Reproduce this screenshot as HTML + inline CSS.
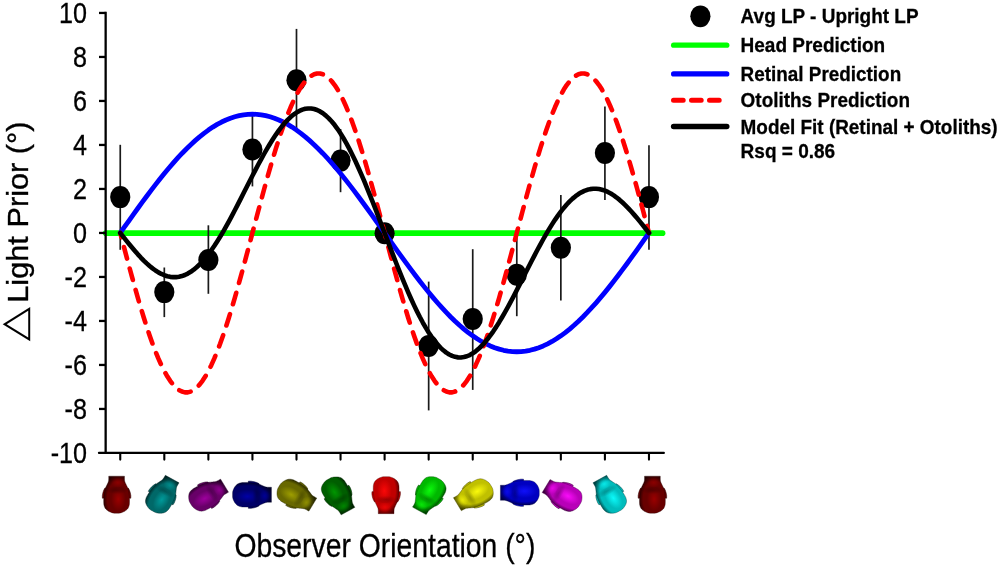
<!DOCTYPE html>
<html lang="en"><head><meta charset="utf-8"><title>Light Prior vs Observer Orientation</title>
<style>
html,body{margin:0;padding:0;background:#fff;}
body{width:1000px;height:566px;overflow:hidden;}
svg{display:block;}
text{font-family:"Liberation Sans",Arial,Helvetica,sans-serif;fill:#000;}
.tick{font-size:28.8px;text-anchor:end;stroke:#000;stroke-width:0.3px;}
.leg{font-size:20.8px;font-weight:bold;stroke:#000;stroke-width:0.3px;}
.axl{font-size:29.5px;stroke:#000;stroke-width:0.35px;}
.axx{font-size:33px;stroke:#000;stroke-width:0.3px;}
</style></head><body>
<svg width="1000" height="566" viewBox="0 0 1000 566">
<rect width="1000" height="566" fill="#fff"/>
<defs>
<radialGradient id="g0" gradientUnits="userSpaceOnUse" cx="0" cy="0" r="15.5" gradientTransform="translate(-1.7,-4.4) scale(1,1.7)">
<stop offset="0" stop-color="#9a0000"/><stop offset="0.45" stop-color="#680000"/><stop offset="0.68" stop-color="#680000"/><stop offset="0.95" stop-color="#240000"/>
</radialGradient>
<radialGradient id="d0"><stop offset="0" stop-color="#240000" stop-opacity="0.38"/><stop offset="1" stop-color="#240000" stop-opacity="0"/></radialGradient>
<radialGradient id="n0"><stop offset="0" stop-color="#9a0000" stop-opacity="0.7"/><stop offset="1" stop-color="#9a0000" stop-opacity="0"/></radialGradient>
<radialGradient id="g1" gradientUnits="userSpaceOnUse" cx="0" cy="0" r="15.5" gradientTransform="translate(-1.7,-4.4) scale(1,1.7)">
<stop offset="0" stop-color="#009a9a"/><stop offset="0.45" stop-color="#006868"/><stop offset="0.68" stop-color="#006868"/><stop offset="0.95" stop-color="#002424"/>
</radialGradient>
<radialGradient id="d1"><stop offset="0" stop-color="#002424" stop-opacity="0.38"/><stop offset="1" stop-color="#002424" stop-opacity="0"/></radialGradient>
<radialGradient id="n1"><stop offset="0" stop-color="#009a9a" stop-opacity="0.7"/><stop offset="1" stop-color="#009a9a" stop-opacity="0"/></radialGradient>
<radialGradient id="g2" gradientUnits="userSpaceOnUse" cx="0" cy="0" r="15.5" gradientTransform="translate(-1.7,-4.4) scale(1,1.7)">
<stop offset="0" stop-color="#9e009e"/><stop offset="0.45" stop-color="#680068"/><stop offset="0.68" stop-color="#680068"/><stop offset="0.95" stop-color="#240024"/>
</radialGradient>
<radialGradient id="d2"><stop offset="0" stop-color="#240024" stop-opacity="0.38"/><stop offset="1" stop-color="#240024" stop-opacity="0"/></radialGradient>
<radialGradient id="n2"><stop offset="0" stop-color="#9e009e" stop-opacity="0.7"/><stop offset="1" stop-color="#9e009e" stop-opacity="0"/></radialGradient>
<radialGradient id="g3" gradientUnits="userSpaceOnUse" cx="0" cy="0" r="15.5" gradientTransform="translate(-1.7,-4.4) scale(1,1.7)">
<stop offset="0" stop-color="#0000a6"/><stop offset="0.45" stop-color="#000068"/><stop offset="0.68" stop-color="#000068"/><stop offset="0.95" stop-color="#000024"/>
</radialGradient>
<radialGradient id="d3"><stop offset="0" stop-color="#000024" stop-opacity="0.38"/><stop offset="1" stop-color="#000024" stop-opacity="0"/></radialGradient>
<radialGradient id="n3"><stop offset="0" stop-color="#0000a6" stop-opacity="0.7"/><stop offset="1" stop-color="#0000a6" stop-opacity="0"/></radialGradient>
<radialGradient id="g4" gradientUnits="userSpaceOnUse" cx="0" cy="0" r="15.5" gradientTransform="translate(-1.7,-4.4) scale(1,1.7)">
<stop offset="0" stop-color="#9e9e00"/><stop offset="0.45" stop-color="#686800"/><stop offset="0.68" stop-color="#686800"/><stop offset="0.95" stop-color="#242400"/>
</radialGradient>
<radialGradient id="d4"><stop offset="0" stop-color="#242400" stop-opacity="0.38"/><stop offset="1" stop-color="#242400" stop-opacity="0"/></radialGradient>
<radialGradient id="n4"><stop offset="0" stop-color="#9e9e00" stop-opacity="0.7"/><stop offset="1" stop-color="#9e9e00" stop-opacity="0"/></radialGradient>
<radialGradient id="g5" gradientUnits="userSpaceOnUse" cx="0" cy="0" r="15.5" gradientTransform="translate(-1.7,-4.4) scale(1,1.7)">
<stop offset="0" stop-color="#009600"/><stop offset="0.45" stop-color="#005e00"/><stop offset="0.68" stop-color="#005e00"/><stop offset="0.95" stop-color="#002000"/>
</radialGradient>
<radialGradient id="d5"><stop offset="0" stop-color="#002000" stop-opacity="0.38"/><stop offset="1" stop-color="#002000" stop-opacity="0"/></radialGradient>
<radialGradient id="n5"><stop offset="0" stop-color="#009600" stop-opacity="0.7"/><stop offset="1" stop-color="#009600" stop-opacity="0"/></radialGradient>
<radialGradient id="g6" gradientUnits="userSpaceOnUse" cx="0" cy="0" r="15.5" gradientTransform="translate(-1.7,-4.4) scale(1,1.7)">
<stop offset="0" stop-color="#fa0808"/><stop offset="0.45" stop-color="#c00000"/><stop offset="0.68" stop-color="#c00000"/><stop offset="0.95" stop-color="#480000"/>
</radialGradient>
<radialGradient id="d6"><stop offset="0" stop-color="#480000" stop-opacity="0.38"/><stop offset="1" stop-color="#480000" stop-opacity="0"/></radialGradient>
<radialGradient id="n6"><stop offset="0" stop-color="#fa0808" stop-opacity="0.7"/><stop offset="1" stop-color="#fa0808" stop-opacity="0"/></radialGradient>
<radialGradient id="g7" gradientUnits="userSpaceOnUse" cx="0" cy="0" r="15.5" gradientTransform="translate(-1.7,-4.4) scale(1,1.7)">
<stop offset="0" stop-color="#0cfa0c"/><stop offset="0.45" stop-color="#00b800"/><stop offset="0.68" stop-color="#00b800"/><stop offset="0.95" stop-color="#004000"/>
</radialGradient>
<radialGradient id="d7"><stop offset="0" stop-color="#004000" stop-opacity="0.38"/><stop offset="1" stop-color="#004000" stop-opacity="0"/></radialGradient>
<radialGradient id="n7"><stop offset="0" stop-color="#0cfa0c" stop-opacity="0.7"/><stop offset="1" stop-color="#0cfa0c" stop-opacity="0"/></radialGradient>
<radialGradient id="g8" gradientUnits="userSpaceOnUse" cx="0" cy="0" r="15.5" gradientTransform="translate(-1.7,-4.4) scale(1,1.7)">
<stop offset="0" stop-color="#fafa0c"/><stop offset="0.45" stop-color="#c0c000"/><stop offset="0.68" stop-color="#c0c000"/><stop offset="0.95" stop-color="#464600"/>
</radialGradient>
<radialGradient id="d8"><stop offset="0" stop-color="#464600" stop-opacity="0.38"/><stop offset="1" stop-color="#464600" stop-opacity="0"/></radialGradient>
<radialGradient id="n8"><stop offset="0" stop-color="#fafa0c" stop-opacity="0.7"/><stop offset="1" stop-color="#fafa0c" stop-opacity="0"/></radialGradient>
<radialGradient id="g9" gradientUnits="userSpaceOnUse" cx="0" cy="0" r="15.5" gradientTransform="translate(-1.7,-4.4) scale(1,1.7)">
<stop offset="0" stop-color="#1010fa"/><stop offset="0.45" stop-color="#0000c0"/><stop offset="0.68" stop-color="#0000c0"/><stop offset="0.95" stop-color="#000044"/>
</radialGradient>
<radialGradient id="d9"><stop offset="0" stop-color="#000044" stop-opacity="0.38"/><stop offset="1" stop-color="#000044" stop-opacity="0"/></radialGradient>
<radialGradient id="n9"><stop offset="0" stop-color="#1010fa" stop-opacity="0.7"/><stop offset="1" stop-color="#1010fa" stop-opacity="0"/></radialGradient>
<radialGradient id="g10" gradientUnits="userSpaceOnUse" cx="0" cy="0" r="15.5" gradientTransform="translate(-1.7,-4.4) scale(1,1.7)">
<stop offset="0" stop-color="#fa0cfa"/><stop offset="0.45" stop-color="#b800b8"/><stop offset="0.68" stop-color="#b800b8"/><stop offset="0.95" stop-color="#400040"/>
</radialGradient>
<radialGradient id="d10"><stop offset="0" stop-color="#400040" stop-opacity="0.38"/><stop offset="1" stop-color="#400040" stop-opacity="0"/></radialGradient>
<radialGradient id="n10"><stop offset="0" stop-color="#fa0cfa" stop-opacity="0.7"/><stop offset="1" stop-color="#fa0cfa" stop-opacity="0"/></radialGradient>
<radialGradient id="g11" gradientUnits="userSpaceOnUse" cx="0" cy="0" r="15.5" gradientTransform="translate(-1.7,-4.4) scale(1,1.7)">
<stop offset="0" stop-color="#0cfafa"/><stop offset="0.45" stop-color="#00bcbc"/><stop offset="0.68" stop-color="#00bcbc"/><stop offset="0.95" stop-color="#004444"/>
</radialGradient>
<radialGradient id="d11"><stop offset="0" stop-color="#004444" stop-opacity="0.38"/><stop offset="1" stop-color="#004444" stop-opacity="0"/></radialGradient>
<radialGradient id="n11"><stop offset="0" stop-color="#0cfafa" stop-opacity="0.7"/><stop offset="1" stop-color="#0cfafa" stop-opacity="0"/></radialGradient>
<path id="hd" d="M0.00,-18.50 L0.63,-18.50 L1.26,-18.50 L1.88,-18.49 L2.51,-18.44 L3.15,-18.35 L3.81,-18.20 L4.50,-17.98 L5.23,-17.71 L5.97,-17.39 L6.69,-17.04 L7.38,-16.68 L8.00,-16.30 L8.56,-15.91 L9.08,-15.51 L9.57,-15.08 L10.01,-14.64 L10.41,-14.18 L10.76,-13.70 L11.07,-13.20 L11.32,-12.67 L11.54,-12.12 L11.71,-11.57 L11.87,-11.03 L12.00,-10.50 L12.11,-10.00 L12.18,-9.52 L12.22,-9.05 L12.25,-8.57 L12.27,-8.06 L12.29,-7.50 L12.30,-6.90 L12.31,-6.28 L12.31,-5.62 L12.30,-4.94 L12.28,-4.24 L12.24,-3.50 L12.18,-2.72 L12.12,-1.90 L12.04,-1.06 L11.95,-0.20 L11.84,0.66 L11.71,1.50 L11.58,2.34 L11.43,3.18 L11.26,4.03 L11.08,4.85 L10.88,5.65 L10.67,6.40 L10.43,7.11 L10.16,7.78 L9.87,8.42 L9.58,9.03 L9.30,9.63 L9.05,10.20 L8.81,10.75 L8.57,11.29 L8.35,11.79 L8.14,12.28 L7.96,12.75 L7.81,13.20 L7.70,13.62 L7.63,13.99 L7.59,14.35 L7.56,14.71 L7.54,15.08 L7.52,15.50 L7.51,15.99 L7.50,16.56 L7.51,17.14 L7.51,17.70 L7.52,18.17 L7.52,18.50 L-7.52,18.50 L-7.52,18.17 L-7.51,17.70 L-7.51,17.14 L-7.50,16.56 L-7.51,15.99 L-7.52,15.50 L-7.54,15.08 L-7.56,14.71 L-7.59,14.35 L-7.63,13.99 L-7.70,13.62 L-7.81,13.20 L-7.96,12.75 L-8.14,12.28 L-8.35,11.79 L-8.57,11.29 L-8.81,10.75 L-9.05,10.20 L-9.30,9.63 L-9.58,9.03 L-9.87,8.42 L-10.16,7.78 L-10.43,7.11 L-10.67,6.40 L-10.88,5.65 L-11.08,4.85 L-11.26,4.03 L-11.43,3.18 L-11.58,2.34 L-11.71,1.50 L-11.84,0.66 L-11.95,-0.20 L-12.04,-1.06 L-12.12,-1.90 L-12.18,-2.72 L-12.24,-3.50 L-12.28,-4.24 L-12.30,-4.94 L-12.31,-5.62 L-12.31,-6.28 L-12.30,-6.90 L-12.29,-7.50 L-12.27,-8.06 L-12.25,-8.57 L-12.22,-9.05 L-12.18,-9.52 L-12.11,-10.00 L-12.00,-10.50 L-11.87,-11.03 L-11.71,-11.57 L-11.54,-12.12 L-11.32,-12.67 L-11.07,-13.20 L-10.76,-13.70 L-10.41,-14.18 L-10.01,-14.64 L-9.57,-15.08 L-9.08,-15.51 L-8.56,-15.91 L-8.00,-16.30 L-7.38,-16.68 L-6.69,-17.04 L-5.97,-17.39 L-5.23,-17.71 L-4.50,-17.98 L-3.81,-18.20 L-3.15,-18.35 L-2.51,-18.44 L-1.88,-18.49 L-1.26,-18.50 L-0.63,-18.50 L-0.00,-18.50 Z"/>
<path id="ear" d="M11.43,-3.30 L13.52,-3.50 L13.57,-1.00 L13.05,2.00 L12.19,4.60 L11.14,6.60 L10.29,6.60 Z M-11.43,-3.30 L-13.52,-3.50 L-13.57,-1.00 L-13.05,2.00 L-12.19,4.60 L-11.14,6.60 L-10.29,6.60 Z"/>
</defs>
<line x1="105.7" y1="233.15" x2="662.6" y2="233.15" stroke="#00ff00" stroke-width="5.6" stroke-linecap="round"/>
<g stroke="#1a1a1a" stroke-width="1.7">
<line x1="120.25" y1="144.8" x2="120.25" y2="249.8"/>
<line x1="164.31" y1="267.5" x2="164.31" y2="317.1"/>
<line x1="208.37" y1="225.3" x2="208.37" y2="293.8"/>
<line x1="252.43" y1="112.6" x2="252.43" y2="186.4"/>
<line x1="296.49" y1="28.9" x2="296.49" y2="131.7"/>
<line x1="340.55" y1="129.0" x2="340.55" y2="192.2"/>
<line x1="428.67" y1="281.6" x2="428.67" y2="410.4"/>
<line x1="472.73" y1="249.2" x2="472.73" y2="389.9"/>
<line x1="516.79" y1="233.4" x2="516.79" y2="316.2"/>
<line x1="560.85" y1="195.0" x2="560.85" y2="300.4"/>
<line x1="604.91" y1="106.5" x2="604.91" y2="200.0"/>
<line x1="648.97" y1="145.2" x2="648.97" y2="249.8"/>
</g>
<g fill="#000">
<ellipse cx="120.25" cy="197.1" rx="10.1" ry="11"/>
<ellipse cx="164.31" cy="292.1" rx="10.1" ry="11"/>
<ellipse cx="208.37" cy="260.0" rx="10.1" ry="11"/>
<ellipse cx="252.43" cy="149.5" rx="10.1" ry="11"/>
<ellipse cx="296.49" cy="80.3" rx="10.1" ry="11"/>
<ellipse cx="340.55" cy="160.6" rx="10.1" ry="11"/>
<ellipse cx="384.61" cy="233.2" rx="10.1" ry="11"/>
<ellipse cx="428.67" cy="345.9" rx="10.1" ry="11"/>
<ellipse cx="472.73" cy="319.0" rx="10.1" ry="11"/>
<ellipse cx="516.79" cy="274.8" rx="10.1" ry="11"/>
<ellipse cx="560.85" cy="247.7" rx="10.1" ry="11"/>
<ellipse cx="604.91" cy="153.0" rx="10.1" ry="11"/>
<ellipse cx="648.97" cy="197.1" rx="10.1" ry="11"/>
</g>
<path d="M120.25,232.95 L124.66,226.73 L129.06,220.53 L133.47,214.37 L137.87,208.25 L142.28,202.20 L146.69,196.24 L151.09,190.38 L155.50,184.63 L159.90,179.02 L164.31,173.55 L168.72,168.25 L173.12,163.12 L177.53,158.19 L181.93,153.46 L186.34,148.95 L190.75,144.66 L195.15,140.63 L199.56,136.84 L203.96,133.32 L208.37,130.07 L212.78,127.10 L217.18,124.42 L221.59,122.04 L225.99,119.96 L230.40,118.20 L234.81,116.75 L239.21,115.61 L243.62,114.80 L248.02,114.31 L252.43,114.15 L256.84,114.31 L261.24,114.80 L265.65,115.61 L270.05,116.75 L274.46,118.20 L278.87,119.96 L283.27,122.04 L287.68,124.42 L292.08,127.10 L296.49,130.07 L300.90,133.32 L305.30,136.84 L309.71,140.63 L314.11,144.66 L318.52,148.95 L322.93,153.46 L327.33,158.19 L331.74,163.12 L336.14,168.25 L340.55,173.55 L344.96,179.02 L349.36,184.63 L353.77,190.38 L358.17,196.24 L362.58,202.20 L366.99,208.25 L371.39,214.37 L375.80,220.53 L380.20,226.73 L384.61,232.95 L389.02,239.17 L393.42,245.37 L397.83,251.53 L402.23,257.65 L406.64,263.70 L411.05,269.66 L415.45,275.52 L419.86,281.27 L424.26,286.88 L428.67,292.35 L433.08,297.65 L437.48,302.78 L441.89,307.71 L446.29,312.44 L450.70,316.95 L455.11,321.24 L459.51,325.27 L463.92,329.06 L468.32,332.58 L472.73,335.83 L477.14,338.80 L481.54,341.48 L485.95,343.86 L490.35,345.94 L494.76,347.70 L499.17,349.15 L503.57,350.29 L507.98,351.10 L512.38,351.59 L516.79,351.75 L521.20,351.59 L525.60,351.10 L530.01,350.29 L534.41,349.15 L538.82,347.70 L543.23,345.94 L547.63,343.86 L552.04,341.48 L556.44,338.80 L560.85,335.83 L565.26,332.58 L569.66,329.06 L574.07,325.27 L578.47,321.24 L582.88,316.95 L587.29,312.44 L591.69,307.71 L596.10,302.78 L600.50,297.65 L604.91,292.35 L609.32,286.88 L613.72,281.27 L618.13,275.52 L622.53,269.66 L626.94,263.70 L631.35,257.65 L635.75,251.53 L640.16,245.37 L644.56,239.17 L648.97,232.95" fill="none" stroke="#0000ff" stroke-width="4.8" stroke-linejoin="round" stroke-linecap="round"/>
<path d="M120.25,232.95 L121.36,237.17 M123.99,247.09 L126.12,255.15 L127.05,258.59 M129.71,268.49 L132.00,276.91 L132.85,279.97 M135.61,289.85 L137.87,297.82 L138.89,301.29 M141.82,311.13 L143.75,317.47 L145.35,322.49 M148.54,332.24 L149.62,335.47 L152.46,343.47 M156.14,353.05 L158.44,358.64 L160.84,363.99 M165.47,373.14 L167.25,376.31 L170.18,380.84 L171.93,383.10 M179.29,390.18 L181.93,391.58 L184.87,392.35 L187.81,392.35 L190.64,391.60 M198.76,385.48 L199.56,384.64 L202.50,380.84 L205.43,376.31 L205.70,375.84 M210.51,366.78 L211.31,365.18 L214.24,358.64 L215.36,355.92 M219.12,346.37 L220.12,343.75 L223.06,335.47 L223.16,335.18 M226.39,325.44 L228.93,317.47 L229.96,314.09 M232.92,304.26 L234.81,297.82 L236.23,292.83 M239.00,282.96 L240.68,276.91 L242.16,271.48 M244.83,261.58 L246.56,255.15 L247.90,250.08 M250.53,240.16 L252.43,232.95 L253.56,228.66 M256.19,218.74 L258.30,210.75 L259.25,207.24 M261.91,197.33 L264.18,188.99 L265.05,185.85 M267.81,175.97 L270.05,168.08 L271.09,164.53 M274.02,154.70 L275.93,148.43 L277.55,143.33 M280.75,133.58 L281.80,130.43 L284.67,122.35 M288.35,112.77 L290.62,107.26 L293.05,101.84 M297.68,92.69 L299.43,89.59 L302.36,85.06 L304.16,82.73 M311.54,75.68 L314.11,74.32 L317.05,73.55 L319.99,73.55 L322.90,74.32 M331.00,80.48 L331.74,81.26 L334.68,85.06 L337.61,89.59 L337.92,90.13 M342.73,99.19 L343.49,100.72 L346.42,107.26 L347.57,110.06 M351.33,119.60 L352.30,122.15 L355.24,130.43 L355.36,130.80 M358.60,140.53 L361.11,148.43 L362.17,151.89 M365.12,161.71 L366.99,168.08 L368.43,173.14 M371.21,183.02 L372.86,188.99 L374.36,194.49 M377.03,204.40 L378.74,210.75 L380.10,215.90 M382.73,225.82 L384.61,232.95 L385.76,237.32 M388.39,247.24 L390.48,255.15 L391.45,258.74 M394.11,268.65 L396.36,276.91 L397.25,280.13 M400.01,290.01 L402.23,297.82 L403.30,301.45 M406.22,311.28 L408.11,317.47 L409.75,322.64 M412.95,332.39 L413.98,335.47 L416.88,343.63 M420.56,353.20 L422.80,358.64 L425.26,364.13 M429.90,373.28 L431.61,376.31 L434.54,380.84 L436.39,383.23 M443.79,390.26 L446.29,391.58 L449.23,392.35 L452.17,392.35 L455.11,391.58 L455.15,391.55 M463.23,385.36 L463.92,384.64 L466.86,380.84 L469.79,376.31 L470.14,375.70 M474.94,366.64 L475.67,365.18 L478.60,358.64 L479.78,355.77 M483.54,346.22 L484.48,343.75 L487.42,335.47 L487.57,335.03 M490.80,325.29 L493.29,317.47 L494.37,313.94 M497.32,304.11 L499.17,297.82 L500.63,292.68 M503.41,282.80 L505.04,276.91 L506.56,271.33 M509.23,261.42 L510.92,255.15 L512.30,249.92 M514.93,240.01 L516.79,232.95 L517.96,228.50 M520.59,218.58 L522.66,210.75 L523.65,207.08 M526.31,197.17 L528.54,188.99 L529.45,185.70 M532.21,175.81 L534.41,168.08 L535.50,164.38 M538.43,154.54 L540.29,148.43 L541.96,143.18 M545.16,133.43 L546.16,130.43 L549.08,122.20 M552.77,112.63 L554.98,107.26 L557.47,101.70 M562.12,92.55 L563.79,89.59 L566.72,85.06 L568.62,82.60 M576.04,75.61 L578.47,74.32 L581.41,73.55 L584.35,73.55 L587.29,74.32 L587.41,74.39 M595.47,80.60 L596.10,81.26 L599.04,85.06 L601.97,89.59 L602.35,90.27 M607.16,99.33 L607.85,100.72 L610.78,107.26 L611.99,110.21 M615.75,119.75 L616.66,122.15 L619.60,130.43 L619.77,130.95 M623.01,140.69 L625.47,148.43 L626.57,152.04 M629.52,161.87 L631.35,168.08 L632.83,173.30 M635.61,183.17 L637.22,188.99 L638.76,194.65 M641.44,204.55 L643.10,210.75 L644.50,216.05 M647.13,225.97 L648.97,232.95" fill="none" stroke="#ff0000" stroke-width="4.6" stroke-linejoin="round" stroke-linecap="round"/>
<path d="M120.25,232.95 L123.19,236.66 L126.12,240.35 L129.06,243.99 L132.00,247.55 L134.94,251.01 L137.87,254.34 L140.81,257.53 L143.75,260.55 L146.69,263.38 L149.62,265.99 L152.56,268.37 L155.50,270.50 L158.44,272.37 L161.37,273.94 L164.31,275.23 L167.25,276.20 L170.18,276.84 L173.12,277.16 L176.06,277.14 L179.00,276.78 L181.93,276.07 L184.87,275.01 L187.81,273.59 L190.75,271.83 L193.68,269.73 L196.62,267.28 L199.56,264.51 L202.50,261.41 L205.43,258.00 L208.37,254.29 L211.31,250.29 L214.24,246.03 L217.18,241.51 L220.12,236.77 L223.06,231.81 L225.99,226.65 L228.93,221.33 L231.87,215.87 L234.81,210.29 L237.74,204.61 L240.68,198.86 L243.62,193.08 L246.56,187.28 L249.49,181.49 L252.43,175.75 L255.37,170.08 L258.30,164.50 L261.24,159.05 L264.18,153.75 L267.12,148.63 L270.05,143.71 L272.99,139.03 L275.93,134.60 L278.87,130.45 L281.80,126.59 L284.74,123.06 L287.68,119.88 L290.62,117.05 L293.55,114.60 L296.49,112.54 L299.43,110.88 L302.36,109.65 L305.30,108.84 L308.24,108.47 L311.18,108.54 L314.11,109.05 L317.05,110.01 L319.99,111.43 L322.93,113.28 L325.86,115.59 L328.80,118.33 L331.74,121.49 L334.68,125.08 L337.61,129.08 L340.55,133.47 L343.49,138.25 L346.42,143.38 L349.36,148.87 L352.30,154.67 L355.24,160.78 L358.17,167.17 L361.11,173.81 L364.05,180.69 L366.99,187.77 L369.92,195.03 L372.86,202.43 L375.80,209.96 L378.74,217.57 L381.67,225.24 L384.61,232.95 L387.55,240.66 L390.48,248.33 L393.42,255.94 L396.36,263.47 L399.30,270.87 L402.23,278.13 L405.17,285.21 L408.11,292.09 L411.05,298.73 L413.98,305.12 L416.92,311.23 L419.86,317.03 L422.80,322.52 L425.73,327.65 L428.67,332.43 L431.61,336.82 L434.54,340.82 L437.48,344.41 L440.42,347.57 L443.36,350.31 L446.29,352.62 L449.23,354.47 L452.17,355.89 L455.11,356.85 L458.04,357.36 L460.98,357.43 L463.92,357.06 L466.86,356.25 L469.79,355.02 L472.73,353.36 L475.67,351.30 L478.60,348.85 L481.54,346.02 L484.48,342.84 L487.42,339.31 L490.35,335.45 L493.29,331.30 L496.23,326.87 L499.17,322.19 L502.10,317.27 L505.04,312.15 L507.98,306.85 L510.92,301.40 L513.85,295.82 L516.79,290.15 L519.73,284.41 L522.66,278.62 L525.60,272.82 L528.54,267.04 L531.48,261.29 L534.41,255.61 L537.35,250.03 L540.29,244.57 L543.23,239.25 L546.16,234.09 L549.10,229.13 L552.04,224.39 L554.98,219.87 L557.91,215.61 L560.85,211.61 L563.79,207.90 L566.72,204.49 L569.66,201.39 L572.60,198.62 L575.54,196.17 L578.47,194.07 L581.41,192.31 L584.35,190.89 L587.29,189.83 L590.22,189.12 L593.16,188.76 L596.10,188.74 L599.04,189.06 L601.97,189.70 L604.91,190.67 L607.85,191.96 L610.78,193.53 L613.72,195.40 L616.66,197.53 L619.60,199.91 L622.53,202.52 L625.47,205.35 L628.41,208.37 L631.35,211.56 L634.28,214.89 L637.22,218.35 L640.16,221.91 L643.10,225.55 L646.03,229.24 L648.97,232.95" fill="none" stroke="#000" stroke-width="4.6" stroke-linejoin="round" stroke-linecap="round"/>
<g stroke="#000" stroke-width="2.3" fill="none" stroke-linecap="butt">
<line x1="105.65" y1="11.8" x2="105.65" y2="454.1"/>
<line x1="99" y1="452.95" x2="663.8" y2="452.95" stroke-linecap="round"/>
<line x1="99" y1="408.95" x2="105.65" y2="408.95"/>
<line x1="99" y1="364.95" x2="105.65" y2="364.95"/>
<line x1="99" y1="320.95" x2="105.65" y2="320.95"/>
<line x1="99" y1="276.95" x2="105.65" y2="276.95"/>
<line x1="99" y1="232.95" x2="105.65" y2="232.95"/>
<line x1="99" y1="188.95" x2="105.65" y2="188.95"/>
<line x1="99" y1="144.95" x2="105.65" y2="144.95"/>
<line x1="99" y1="100.95" x2="105.65" y2="100.95"/>
<line x1="99" y1="56.95" x2="105.65" y2="56.95"/>
<line x1="99" y1="12.95" x2="105.65" y2="12.95"/>
</g>
<g stroke="#000" stroke-width="2.1" stroke-linecap="round">
<line x1="120.25" y1="453" x2="120.25" y2="459.6"/>
<line x1="164.31" y1="453" x2="164.31" y2="459.6"/>
<line x1="208.37" y1="453" x2="208.37" y2="459.6"/>
<line x1="252.43" y1="453" x2="252.43" y2="459.6"/>
<line x1="296.49" y1="453" x2="296.49" y2="459.6"/>
<line x1="340.55" y1="453" x2="340.55" y2="459.6"/>
<line x1="384.61" y1="453" x2="384.61" y2="459.6"/>
<line x1="428.67" y1="453" x2="428.67" y2="459.6"/>
<line x1="472.73" y1="453" x2="472.73" y2="459.6"/>
<line x1="516.79" y1="453" x2="516.79" y2="459.6"/>
<line x1="560.85" y1="453" x2="560.85" y2="459.6"/>
<line x1="604.91" y1="453" x2="604.91" y2="459.6"/>
<line x1="648.97" y1="453" x2="648.97" y2="459.6"/>
</g>
<text class="tick" transform="translate(87,462.55) scale(0.874,1)">-10</text>
<text class="tick" transform="translate(87,418.55) scale(0.874,1)">-8</text>
<text class="tick" transform="translate(87,374.55) scale(0.874,1)">-6</text>
<text class="tick" transform="translate(87,330.55) scale(0.874,1)">-4</text>
<text class="tick" transform="translate(87,286.55) scale(0.874,1)">-2</text>
<text class="tick" transform="translate(87,242.55) scale(0.874,1)">0</text>
<text class="tick" transform="translate(87,198.55) scale(0.874,1)">2</text>
<text class="tick" transform="translate(87,154.55) scale(0.874,1)">4</text>
<text class="tick" transform="translate(87,110.55) scale(0.874,1)">6</text>
<text class="tick" transform="translate(87,66.55) scale(0.874,1)">8</text>
<text class="tick" transform="translate(87,22.55) scale(0.874,1)">10</text>
<text class="axx" x="234.4" y="557.3" textLength="301" lengthAdjust="spacingAndGlyphs">Observer Orientation (°)</text>
<g transform="translate(0,341) rotate(-90) scale(1.255,1)"><text x="-0.44" y="25.64" style="font-family:'DejaVu Sans','Liberation Sans',sans-serif;font-size:36px">△</text></g>
<g transform="translate(28.25,341) rotate(-90) scale(1,0.975)">
<text class="axl" x="38.3" y="0" textLength="181.3" lengthAdjust="spacingAndGlyphs">Light Prior (°)</text>
</g>
<g transform="translate(116.60,494.70) scale(1.050,1) rotate(-180)">
<use href="#ear" fill="#680000" stroke="#240000" stroke-width="0.5"/>
<use href="#hd" fill="url(#g0)" stroke="#240000" stroke-width="0.5" stroke-opacity="0.7"/>
<ellipse cx="0" cy="4.6" rx="11.2" ry="4" fill="url(#d0)"/>
<ellipse cx="-1.2" cy="12" rx="6.4" ry="5" fill="url(#n0)"/>
</g>
<g transform="translate(162.47,495.08) scale(1.050,1) rotate(-150)">
<use href="#ear" fill="#006868" stroke="#002424" stroke-width="0.5"/>
<use href="#hd" fill="url(#g1)" stroke="#002424" stroke-width="0.5" stroke-opacity="0.7"/>
<ellipse cx="0" cy="4.6" rx="11.2" ry="4" fill="url(#d1)"/>
<ellipse cx="-1.2" cy="12" rx="6.4" ry="5" fill="url(#n1)"/>
</g>
<g transform="translate(207.73,494.94) scale(1.050,1) rotate(-120)">
<use href="#ear" fill="#680068" stroke="#240024" stroke-width="0.5"/>
<use href="#hd" fill="url(#g2)" stroke="#240024" stroke-width="0.5" stroke-opacity="0.7"/>
<ellipse cx="0" cy="4.6" rx="11.2" ry="4" fill="url(#d2)"/>
<ellipse cx="-1.2" cy="12" rx="6.4" ry="5" fill="url(#n2)"/>
</g>
<g transform="translate(252.00,494.75) scale(1.050,1) rotate(-90)">
<use href="#ear" fill="#000068" stroke="#000024" stroke-width="0.5"/>
<use href="#hd" fill="url(#g3)" stroke="#000024" stroke-width="0.5" stroke-opacity="0.7"/>
<ellipse cx="0" cy="4.6" rx="11.2" ry="4" fill="url(#d3)"/>
<ellipse cx="-1.2" cy="12" rx="6.4" ry="5" fill="url(#n3)"/>
</g>
<g transform="translate(296.03,495.36) scale(1.050,1) rotate(-60)">
<use href="#ear" fill="#686800" stroke="#242400" stroke-width="0.5"/>
<use href="#hd" fill="url(#g4)" stroke="#242400" stroke-width="0.5" stroke-opacity="0.7"/>
<ellipse cx="0" cy="4.6" rx="11.2" ry="4" fill="url(#d4)"/>
<ellipse cx="-1.2" cy="12" rx="6.4" ry="5" fill="url(#n4)"/>
</g>
<g transform="translate(338.32,495.07) scale(1.050,1) rotate(-30)">
<use href="#ear" fill="#005e00" stroke="#002000" stroke-width="0.5"/>
<use href="#hd" fill="url(#g5)" stroke="#002000" stroke-width="0.5" stroke-opacity="0.7"/>
<ellipse cx="0" cy="4.6" rx="11.2" ry="4" fill="url(#d5)"/>
<ellipse cx="-1.2" cy="12" rx="6.4" ry="5" fill="url(#n5)"/>
</g>
<g transform="translate(386.15,495.15) scale(1.050,1) rotate(0)">
<use href="#ear" fill="#c00000" stroke="#480000" stroke-width="0.5"/>
<use href="#hd" fill="url(#g6)" stroke="#480000" stroke-width="0.5" stroke-opacity="0.7"/>
<ellipse cx="0" cy="4.6" rx="11.2" ry="4" fill="url(#d6)"/>
<ellipse cx="-1.2" cy="12" rx="6.4" ry="5" fill="url(#n6)"/>
</g>
<g transform="translate(429.08,494.82) scale(1.050,1) rotate(30)">
<use href="#ear" fill="#00b800" stroke="#004000" stroke-width="0.5"/>
<use href="#hd" fill="url(#g7)" stroke="#004000" stroke-width="0.5" stroke-opacity="0.7"/>
<ellipse cx="0" cy="4.6" rx="11.2" ry="4" fill="url(#d7)"/>
<ellipse cx="-1.2" cy="12" rx="6.4" ry="5" fill="url(#n7)"/>
</g>
<g transform="translate(474.22,495.01) scale(1.050,1) rotate(60)">
<use href="#ear" fill="#c0c000" stroke="#464600" stroke-width="0.5"/>
<use href="#hd" fill="url(#g8)" stroke="#464600" stroke-width="0.5" stroke-opacity="0.7"/>
<ellipse cx="0" cy="4.6" rx="11.2" ry="4" fill="url(#d8)"/>
<ellipse cx="-1.2" cy="12" rx="6.4" ry="5" fill="url(#n8)"/>
</g>
<g transform="translate(519.85,492.75) scale(1.050,1) rotate(90)">
<use href="#ear" fill="#0000c0" stroke="#000044" stroke-width="0.5"/>
<use href="#hd" fill="url(#g9)" stroke="#000044" stroke-width="0.5" stroke-opacity="0.7"/>
<ellipse cx="0" cy="4.6" rx="11.2" ry="4" fill="url(#d9)"/>
<ellipse cx="-1.2" cy="12" rx="6.4" ry="5" fill="url(#n9)"/>
</g>
<g transform="translate(562.97,495.29) scale(1.050,1) rotate(120)">
<use href="#ear" fill="#b800b8" stroke="#400040" stroke-width="0.5"/>
<use href="#hd" fill="url(#g10)" stroke="#400040" stroke-width="0.5" stroke-opacity="0.7"/>
<ellipse cx="0" cy="4.6" rx="11.2" ry="4" fill="url(#d10)"/>
<ellipse cx="-1.2" cy="12" rx="6.4" ry="5" fill="url(#n10)"/>
</g>
<g transform="translate(609.53,495.08) scale(1.050,1) rotate(150)">
<use href="#ear" fill="#00bcbc" stroke="#004444" stroke-width="0.5"/>
<use href="#hd" fill="url(#g11)" stroke="#004444" stroke-width="0.5" stroke-opacity="0.7"/>
<ellipse cx="0" cy="4.6" rx="11.2" ry="4" fill="url(#d11)"/>
<ellipse cx="-1.2" cy="12" rx="6.4" ry="5" fill="url(#n11)"/>
</g>
<g transform="translate(652.40,494.70) scale(1.050,1) rotate(180)">
<use href="#ear" fill="#680000" stroke="#240000" stroke-width="0.5"/>
<use href="#hd" fill="url(#g0)" stroke="#240000" stroke-width="0.5" stroke-opacity="0.7"/>
<ellipse cx="0" cy="4.6" rx="11.2" ry="4" fill="url(#d0)"/>
<ellipse cx="-1.2" cy="12" rx="6.4" ry="5" fill="url(#n0)"/>
</g>
<ellipse cx="700.4" cy="16.3" rx="10.1" ry="10.9" fill="#000"/>
<line x1="673.6" y1="45.2" x2="726.8" y2="45.2" stroke="#00ff00" stroke-width="5.2" stroke-linecap="round"/>
<line x1="673.6" y1="73.9" x2="726.8" y2="73.9" stroke="#0000ff" stroke-width="5.2" stroke-linecap="round"/>
<line x1="673.5" y1="100.2" x2="722" y2="100.2" stroke="#ff0000" stroke-width="5" stroke-linecap="round" stroke-dasharray="9.7 8.3"/>
<line x1="673.6" y1="126.5" x2="726.8" y2="126.5" stroke="#000" stroke-width="5.4" stroke-linecap="round"/>
<text class="leg" x="740.6" y="22.95" textLength="178.0" lengthAdjust="spacingAndGlyphs">Avg LP - Upright LP</text>
<text class="leg" x="740.6" y="51.80" textLength="144.5" lengthAdjust="spacingAndGlyphs">Head Prediction</text>
<text class="leg" x="740.6" y="80.65" textLength="160.6" lengthAdjust="spacingAndGlyphs">Retinal Prediction</text>
<text class="leg" x="740.6" y="107.40" textLength="169.4" lengthAdjust="spacingAndGlyphs">Otoliths Prediction</text>
<text class="leg" x="740.6" y="133.50" textLength="257.0" lengthAdjust="spacingAndGlyphs">Model Fit (Retinal + Otoliths)</text>
<text class="leg" x="740.6" y="158.00" textLength="94.6" lengthAdjust="spacingAndGlyphs">Rsq = 0.86</text>
</svg>
</body></html>
